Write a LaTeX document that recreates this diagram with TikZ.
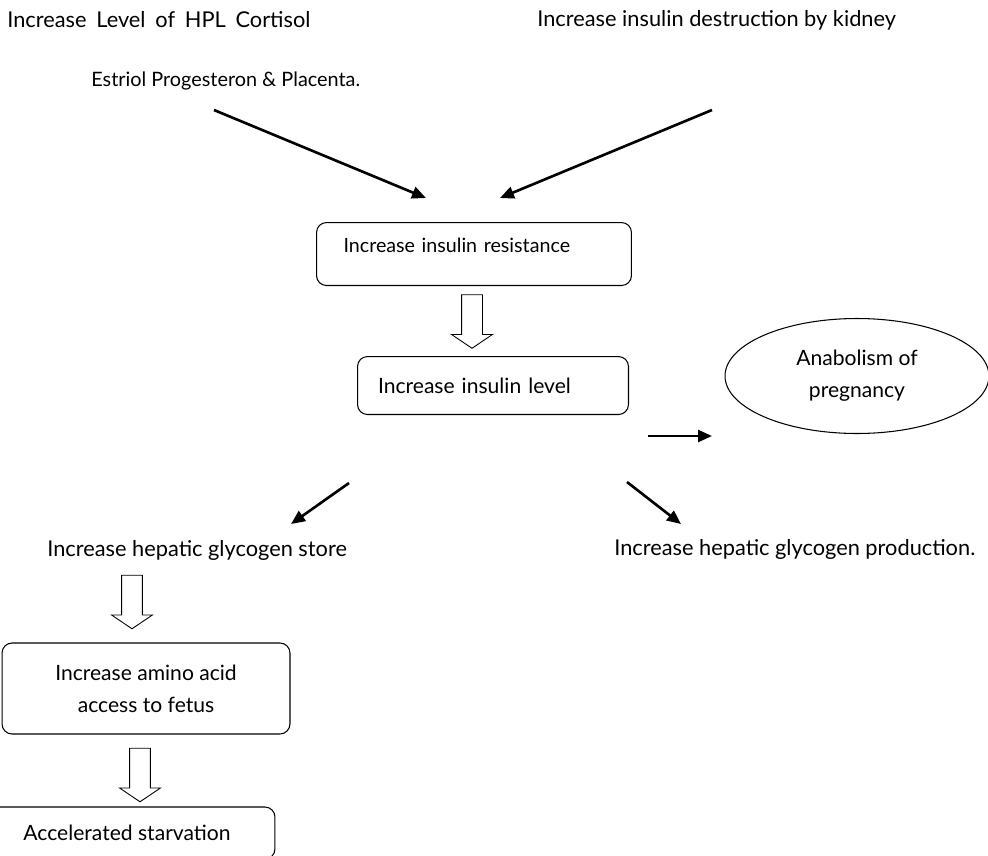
\documentclass[tikz,border=0pt]{standalone}
\usepackage{fontspec}
\setmainfont{Lato}
\newfontfamily\widefont[WordSpace=1.75]{Lato}
\usetikzlibrary{shapes.geometric, shapes.arrows, arrows.meta}
\tikzstyle{stage} = [rectangle, rounded corners=0.2cm, draw=black, line width=0.6pt, font=\fontsize{12}{18.2}\selectfont, align=center, inner sep=0pt]
\tikzstyle{blob} = [ellipse, draw=black, line width=0.6pt, font=\fontsize{12}{18.2}\selectfont, align=center, inner sep=0pt, minimum width=5.28cm, minimum height=2.3cm]
\tikzstyle{txt} = [anchor=west, inner sep=0pt, font=\fontsize{12.4}{14}\selectfont]
\tikzstyle{arrow} = [line width=1.5pt, -{Triangle[length=0.28cm, width=0.24cm]}]
\tikzstyle{hollow} = [single arrow, draw=black, line width=0.5pt, rotate=-90, minimum height=1.07cm, minimum width=0.8cm, single arrow head extend=0.2cm, single arrow tip angle=112, inner xsep=0pt, inner ysep=0.2cm]

\begin{document}
\begin{tikzpicture}[x=0.02cm, y=-0.02cm]
\useasboundingbox (0,0) rectangle (988,856);
\clip (0,0) rectangle (988,856);

% Causes
\node[txt, font=\widefont\fontsize{12.4}{14}\selectfont] (hpl) at (7,20) {Increase Level of HPL Cortisol};
\node[txt] (kidney) at (537,20) {Increase insulin destruction by kidney};
\node[txt, font=\fontsize{11.3}{14}\selectfont] (estriol) at (91,81) {Estriol Progesteron \& Placenta.};

% Boxes
\node[stage, font=\fontsize{11.2}{14}\selectfont, anchor=north west, text width=5.22cm, align=left, inner xsep=0.54cm, text height=0.6cm, text depth=0.66cm] (resist) at (316,222) {Increase insulin resistance};
\node[stage, anchor=north west, text width=4.6cm, align=left, inner xsep=0.41cm, minimum height=1.16cm] (level) at (357,356) {Increase insulin level};
\node[blob] (anabol) at (857,376) {Anabolism of\\pregnancy};
\node[txt] (store) at (47,550) {Increase hepatic glycogen store};
\node[txt] (prod) at (614,549) {Increase hepatic glycogen production.};
\node[stage, minimum width=5.76cm, minimum height=1.82cm] (amino) at (146,688.5) {Increase amino acid\\access to fetus};
\node[stage, minimum width=5.92cm, minimum height=1.04cm] (starve) at (127,833) {Accelerated starvation};

% Hollow arrows
\node[hollow] (h1) at (472,318) {};
\node[hollow] (h2) at (132,598.5) {};
\node[hollow] (h3) at (140,771.5) {};

% Arrows
\coordinate (a1s) at (214,110);
\coordinate (a1e) at (426,198);
\coordinate (a2s) at (712,110);
\coordinate (a2e) at (500,198);
\coordinate (a3s) at (648,436);
\coordinate (a3e) at (712,436);
\coordinate (a4s) at (349,483);
\coordinate (a4e) at (291,524);
\coordinate (a5s) at (627,482);
\coordinate (a5e) at (681,524);
\draw[arrow] (a1s) -- (a1e);
\draw[arrow] (a2s) -- (a2e);
\draw[arrow] (a3s) -- (a3e);
\draw[arrow] (a4s) -- (a4e);
\draw[arrow] (a5s) -- (a5e);

\end{tikzpicture}
\end{document}
